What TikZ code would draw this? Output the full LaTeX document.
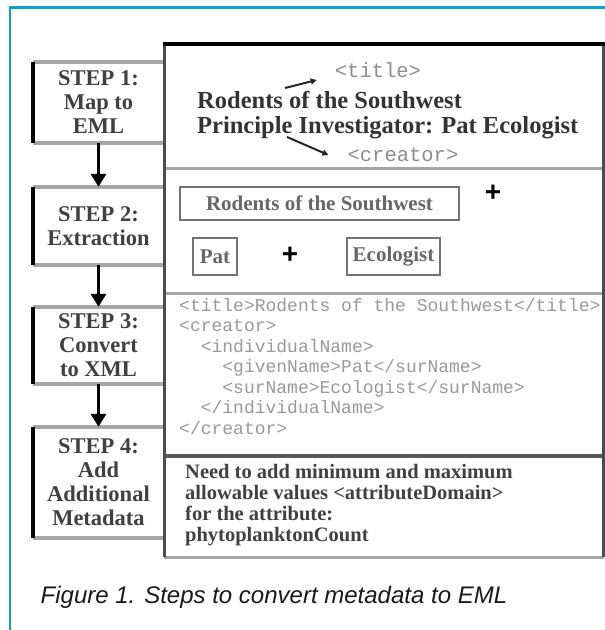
\documentclass[tikz,border=0pt]{standalone}
\usepackage{fontspec}
\setmainfont{Liberation Serif}
\setsansfont{Liberation Sans}
\setmonofont{Liberation Mono}
\usetikzlibrary{arrows.meta,positioning}
\definecolor{framecyan}{RGB}{10,160,204}
\begin{document}
\begin{tikzpicture}[x=1pt,y=-1pt,
	stepbox/.style={minimum width=131pt,inner sep=0pt,align=center,text=black!75,font=\bfseries\fontsize{22.5}{24}\selectfont},
	steparrow/.style={line width=3.5pt,-{Triangle[width=15pt,length=13pt]}},
	edgegray/.style={black!35,line width=3.5pt},
	edgeblack/.style={black,line width=4pt},
	tagtext/.style={inner sep=2pt,text=black!45,font=\ttfamily\fontsize{20.5}{24}\selectfont},
	tagarrow/.style={black!85,line width=2pt,-{Triangle[width=6pt,length=6pt]}},
	recordtext/.style={inner sep=0pt,align=left,text=black!80,font=\bfseries\fontsize{24.5}{25}\selectfont},
	fieldbox/.style={draw=black!55,line width=2.5pt,inner sep=0pt,text=black!60,font=\bfseries\fontsize{21}{24}\selectfont},
	plus/.style={inner sep=0pt,font=\sffamily\bfseries\fontsize{28}{28}\selectfont},
	xmltext/.style={inner sep=0pt,align=left,text=black!40,font=\ttfamily\fontsize{18}{20.5}\selectfont},
	notetext/.style={inner sep=0pt,align=left,text=black!75,font=\bfseries\fontsize{20.5}{20.7}\selectfont}]
	\useasboundingbox (0,0) rectangle (605,630);
	\draw[framecyan,line width=2.8pt] (10,630) -- (10,7.5) -- (605,7.5);

	\node[stepbox,minimum height=81pt] (s1) at (98.5,102.5) {STEP 1:\\Map to\\EML};
	\node[stepbox,minimum height=78pt] (s2) at (98.5,226) {STEP 2:\\Extraction};
	\node[stepbox,minimum height=77pt] (s3) at (98.5,345.5) {STEP 3:\\Convert\\to XML};
	\node[stepbox,minimum height=111pt] (s4) at (98.5,482.5) {STEP 4:\\Add\\Additional\\Metadata};
	\foreach \s in {s1,s2,s3,s4}{
		\draw[edgegray] (\s.north west) -- (\s.north east) (\s.south west) -- (\s.south east);
		\draw[edgeblack] (\s.north west) -- (\s.south west);
	}
	\draw[steparrow] (s1.south) -- (s2.north);
	\draw[steparrow] (s2.south) -- (s3.north);
	\draw[steparrow] (s3.south) -- (s4.north);

	\draw[black!35,line width=3pt] (164,168) -- (604,168) (164,293) -- (604,293) (164,557) -- (604,557);
	\draw[black!65,line width=3.5pt] (164,456) -- (604,456);
	\draw[black!70,line width=3pt] (164,43) -- (164,557) (603.5,43) -- (603.5,557);
	\draw[black,line width=4pt] (162.5,44) -- (605,44);

	\node[tagtext] (titletag) at (378,70) {<title>};
	\node[tagtext] (creatortag) at (403,155) {<creator>};
	\node[recordtext,anchor=base west] (record) at (197,133) {Rodents of the Southwest\\Principle Investigator: Pat Ecologist};
	\coordinate (titlefoot) at (285,88);
	\coordinate (creatorfoot) at (287,137);
	\draw[tagarrow] (titlefoot) -- ([xshift=-16pt,yshift=-10pt]titletag.west);
	\draw[tagarrow] (creatorfoot) -- ([xshift=-17pt]creatortag.west);

	\node[fieldbox,minimum width=279pt,minimum height=33pt] (titlefield) at (319.5,203.5) {Rodents of the Southwest};
	\node[plus] (plusa) at (493,193) {+};
	\node[fieldbox,minimum width=44pt,minimum height=37pt] (givenfield) at (215,256.5) {Pat};
	\node[plus] (plusb) at (290,255) {+};
	\node[fieldbox,minimum width=93pt,minimum height=37pt] (surfield) at (393.5,256.5) {Ecologist};

	\node[xmltext,anchor=base west] (xml) at (179,434) {<title>Rodents of the Southwest</title>\\<creator>\\\hspace*{1.2em}<individualName>\\\hspace*{2.4em}<givenName>Pat</surName>\\\hspace*{2.4em}<surName>Ecologist</surName>\\\hspace*{1.2em}</individualName>\\</creator>};

	\node[notetext,anchor=base west] (note) at (185,541) {Need to add minimum and maximum\\allowable values <attributeDomain>\\for the attribute:\\phytoplanktonCount};

	\node[anchor=base west,inner sep=0pt,text=black!90,font=\sffamily\itshape\fontsize{24}{28}\selectfont] (caption) at (40.5,603) {Figure 1. Steps to convert metadata to EML};
\end{tikzpicture}
\end{document}
